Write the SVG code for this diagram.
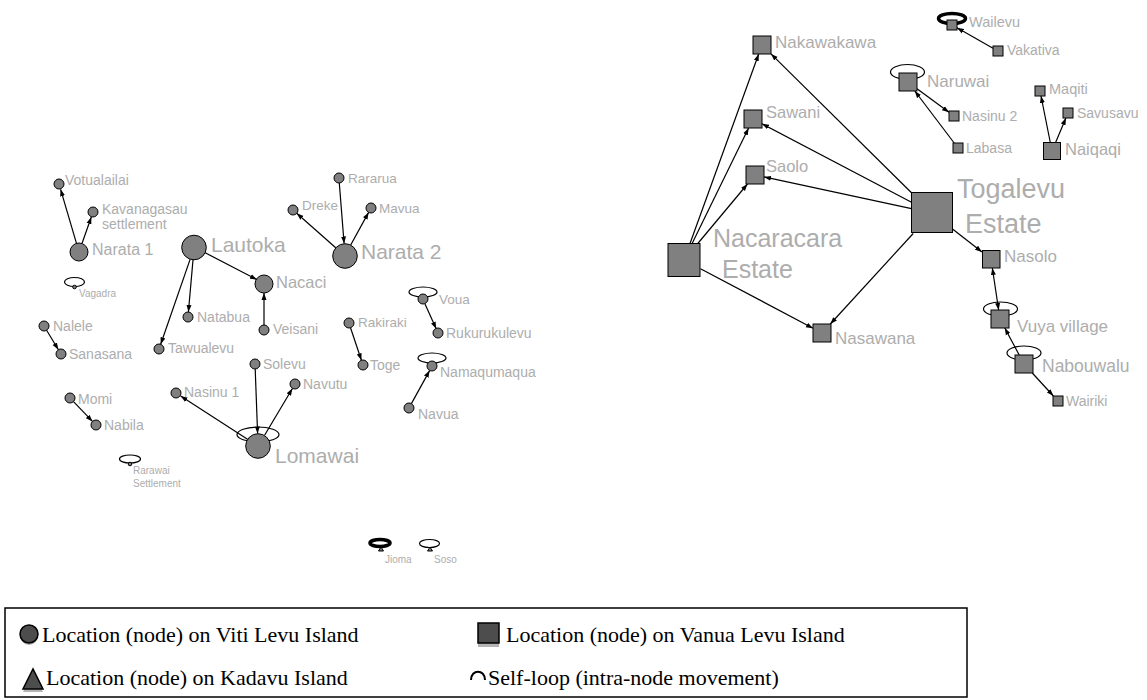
<svg xmlns="http://www.w3.org/2000/svg" width="1147" height="700" viewBox="0 0 1147 700">
<style>
  .bg{fill:#ffffff}
  .c{fill:#808080;stroke:#000;stroke-width:1}
  .s{fill:#808080;stroke:#000;stroke-width:1}
  .loop{fill:none;stroke:#000;stroke-width:1.2}
  .loopb{fill:none;stroke:#000;stroke-width:3.5}
  .e{stroke:#000;stroke-width:1.2;fill:none;marker-end:url(#ah)}
  .lb{font-family:"Liberation Sans",Arial,sans-serif;fill:#adadad}
  .lg{font-family:"Liberation Serif","Times New Roman",serif;fill:#000;font-size:22px}
</style>
<defs>
  <marker id="ah" markerUnits="userSpaceOnUse" markerWidth="8" markerHeight="6" refX="7" refY="3" orient="auto-start-reverse">
    <path d="M0,0.5 L7,3 L0,5.5 z" fill="#000"/>
  </marker>
</defs>
<rect class="bg" x="0" y="0" width="1147" height="700"/>

<!-- connectors -->
<g id="edges">
  <!-- Viti Levu -->
  <line class="e" x1="76.5" y1="243.4" x2="60.6" y2="189.3"/>
  <line class="e" x1="82" y1="243.5" x2="91.3" y2="217"/>
  <line class="e" x1="204.7" y1="252.5" x2="256.9" y2="279.6"/>
  <line class="e" x1="193" y1="260" x2="188.4" y2="312"/>
  <line class="e" x1="190.1" y1="259.4" x2="160.7" y2="344.3"/>
  <line class="e" x1="264" y1="325" x2="264" y2="293"/>
  <line class="e" x1="339.3" y1="183" x2="344.1" y2="243.5"/>
  <line class="e" x1="336" y1="248" x2="296.7" y2="213.3"/>
  <line class="e" x1="350.7" y1="245" x2="368.6" y2="212.4"/>
  <line class="e" x1="425" y1="304" x2="436.2" y2="328.8"/>
  <line class="e" x1="350.6" y1="328" x2="361.4" y2="360.3"/>
  <line class="e" x1="411.4" y1="403.6" x2="429.6" y2="370.6"/>
  <line class="e" x1="46.6" y1="330.3" x2="58.4" y2="349.7"/>
  <line class="e" x1="73.5" y1="401.6" x2="92.5" y2="421.4"/>
  <line class="e" x1="247.9" y1="439.5" x2="180.6" y2="396"/>
  <line class="e" x1="255.2" y1="369" x2="257.6" y2="433.5"/>
  <line class="e" x1="264.6" y1="435.3" x2="292.4" y2="388.5"/>
  <!-- Vanua Levu -->
  <line class="e" x1="690" y1="243.5" x2="758.7" y2="54"/>
  <line class="e" x1="692.1" y1="243.5" x2="748.6" y2="128"/>
  <line class="e" x1="697.8" y1="243.5" x2="747.5" y2="184"/>
  <line class="e" x1="700.5" y1="268.7" x2="813" y2="328.2"/>
  <line class="e" x1="911.5" y1="192.7" x2="771" y2="53.9"/>
  <line class="e" x1="911.5" y1="202.2" x2="762" y2="123.7"/>
  <line class="e" x1="911.5" y1="208.6" x2="764" y2="176.9"/>
  <line class="e" x1="913.2" y1="233.5" x2="830.3" y2="324"/>
  <line class="e" x1="952.5" y1="229" x2="982" y2="252"/>
  <line class="e" x1="993" y1="48.2" x2="957" y2="27.8"/>
  <line class="e" x1="917" y1="88.7" x2="949" y2="112.3"/>
  <line class="e" x1="954.2" y1="143" x2="914.8" y2="91"/>
  <line class="e" x1="1050.3" y1="142.5" x2="1041" y2="96"/>
  <line class="e" x1="1055.6" y1="142.5" x2="1065.9" y2="118"/>
  <line class="e" x1="992.35" y1="268" x2="998.65" y2="310" marker-start="url(#ah)"/>
  <line class="e" x1="1019.2" y1="355" x2="1004.8" y2="328"/>
  <line class="e" x1="1032.3" y1="373" x2="1053.4" y2="396"/>
</g>

<!-- Viti Levu nodes -->
<g id="n-votualailai"><circle class="c" cx="59" cy="184" r="5"/><text class="lb" x="65" y="185" font-size="14">Votualailai</text></g>
<g id="n-kavanagasau"><circle class="c" cx="93" cy="212" r="5"/><text class="lb" x="102" y="214" font-size="14">Kavanagasau</text><text class="lb" x="102" y="229" font-size="14">settlement</text></g>
<g id="n-narata1"><circle class="c" cx="79" cy="252" r="9"/><text class="lb" x="92" y="255" font-size="16">Narata 1</text></g>
<g id="n-vagadra"><ellipse class="loop" cx="74.5" cy="282" rx="10" ry="4.5"/><circle class="c" cx="74.5" cy="287" r="1.8"/><text class="lb" x="79" y="297" font-size="10">Vagadra</text></g>
<g id="n-lautoka"><circle class="c" cx="194" cy="247.5" r="12.3"/><text class="lb" x="211" y="252" font-size="21">Lautoka</text></g>
<g id="n-nacaci"><circle class="c" cx="264" cy="284" r="9"/><text class="lb" x="276" y="288" font-size="16.5">Nacaci</text></g>
<g id="n-natabua"><circle class="c" cx="188" cy="317" r="5"/><text class="lb" x="197" y="322" font-size="14">Natabua</text></g>
<g id="n-veisani"><circle class="c" cx="264" cy="330" r="5"/><text class="lb" x="273" y="334" font-size="14">Veisani</text></g>
<g id="n-tawualevu"><circle class="c" cx="159" cy="349" r="5"/><text class="lb" x="168" y="353" font-size="14">Tawualevu</text></g>
<g id="n-rararua"><circle class="c" cx="339" cy="178" r="5"/><text class="lb" x="348" y="183" font-size="13.5">Rararua</text></g>
<g id="n-dreke"><circle class="c" cx="293" cy="210" r="5"/><text class="lb" x="302" y="210" font-size="13.5">Dreke</text></g>
<g id="n-mavua"><circle class="c" cx="371" cy="208" r="5"/><text class="lb" x="379" y="213" font-size="13.5">Mavua</text></g>
<g id="n-narata2"><circle class="c" cx="345" cy="256" r="12.3"/><text class="lb" x="361" y="259" font-size="21">Narata 2</text></g>
<g id="n-voua"><ellipse class="loop" cx="423" cy="292" rx="14" ry="5"/><circle class="c" cx="423" cy="299" r="5"/><text class="lb" x="439" y="304" font-size="13.5">Voua</text></g>
<g id="n-rukurukulevu"><circle class="c" cx="438" cy="333" r="5"/><text class="lb" x="446" y="338" font-size="14">Rukurukulevu</text></g>
<g id="n-rakiraki"><circle class="c" cx="349" cy="323" r="5"/><text class="lb" x="358" y="327" font-size="13.5">Rakiraki</text></g>
<g id="n-toge"><circle class="c" cx="363" cy="365" r="5"/><text class="lb" x="370" y="370" font-size="14">Toge</text></g>
<g id="n-namaqumaqua"><ellipse class="loop" cx="432" cy="358" rx="14" ry="5"/><circle class="c" cx="432" cy="366" r="5"/><text class="lb" x="440" y="377" font-size="14">Namaqumaqua</text></g>
<g id="n-navua"><circle class="c" cx="409" cy="408" r="5"/><text class="lb" x="418" y="419" font-size="14">Navua</text></g>
<g id="n-nalele"><circle class="c" cx="44" cy="326" r="5"/><text class="lb" x="53" y="331" font-size="14">Nalele</text></g>
<g id="n-sanasana"><circle class="c" cx="61" cy="354" r="5"/><text class="lb" x="69" y="359" font-size="14">Sanasana</text></g>
<g id="n-momi"><circle class="c" cx="70" cy="398" r="5"/><text class="lb" x="78" y="404" font-size="14">Momi</text></g>
<g id="n-nabila"><circle class="c" cx="96" cy="425" r="5"/><text class="lb" x="104" y="430" font-size="14">Nabila</text></g>
<g id="n-rarawai"><ellipse class="loop" cx="130" cy="459" rx="10.5" ry="4"/><circle class="c" cx="130" cy="464" r="1.8"/><text class="lb" x="133" y="474" font-size="10">Rarawai</text><text class="lb" x="133" y="487" font-size="10">Settlement</text></g>
<g id="n-nasinu1"><circle class="c" cx="176" cy="393" r="5"/><text class="lb" x="184" y="397" font-size="14">Nasinu 1</text></g>
<g id="n-solevu"><circle class="c" cx="255" cy="364" r="5"/><text class="lb" x="263" y="369" font-size="14">Solevu</text></g>
<g id="n-navutu"><circle class="c" cx="295" cy="384" r="5"/><text class="lb" x="303" y="389" font-size="14">Navutu</text></g>
<g id="n-lomawai"><ellipse class="loop" cx="258" cy="434.5" rx="21" ry="7.5"/><circle class="c" cx="258" cy="446" r="12.3"/><text class="lb" x="275" y="463" font-size="21">Lomawai</text></g>

<!-- Kadavu nodes -->
<g id="n-jioma"><ellipse class="loopb" cx="380" cy="543" rx="10" ry="3.5"/><path class="c" d="M378.5,551 L383.5,551 L381,547 z"/><text class="lb" x="385" y="563" font-size="10">Jioma</text></g>
<g id="n-soso"><ellipse class="loop" cx="429.5" cy="543.5" rx="10" ry="4"/><path class="c" d="M427.5,551 L432.5,551 L430,547 z"/><text class="lb" x="434" y="563" font-size="10">Soso</text></g>

<!-- Vanua Levu nodes -->
<g id="n-nakawakawa"><rect class="s" x="753" y="36" width="18" height="18"/><text class="lb" x="775" y="48" font-size="17">Nakawakawa</text></g>
<g id="n-sawani"><rect class="s" x="744" y="110" width="18" height="18"/><text class="lb" x="766" y="118" font-size="16.5">Sawani</text></g>
<g id="n-saolo"><rect class="s" x="746" y="166" width="18" height="18"/><text class="lb" x="766" y="172" font-size="16.5">Saolo</text></g>
<g id="n-nacaracara"><rect class="s" x="668" y="243.5" width="32" height="33"/><text class="lb" x="713" y="247" font-size="25">Nacaracara</text><text class="lb" x="722" y="278" font-size="25">Estate</text></g>
<g id="n-togalevu"><rect class="s" x="911.5" y="192.5" width="41" height="40"/><text class="lb" x="957" y="198" font-size="27">Togalevu</text><text class="lb" x="965" y="233" font-size="27">Estate</text></g>
<g id="n-nasawana"><rect class="s" x="813" y="324" width="18" height="18"/><text class="lb" x="835" y="344" font-size="17">Nasawana</text></g>
<g id="n-wailevu"><ellipse class="loopb" cx="952" cy="18.5" rx="13.5" ry="5"/><rect class="s" x="947" y="20" width="10" height="10"/><text class="lb" x="969" y="27" font-size="14.5">Wailevu</text></g>
<g id="n-vakativa"><rect class="s" x="993" y="46" width="10" height="10"/><text class="lb" x="1007" y="55" font-size="14">Vakativa</text></g>
<g id="n-naruwai"><ellipse class="loop" cx="907.5" cy="72" rx="17" ry="7.5"/><rect class="s" x="899" y="73" width="18" height="18"/><text class="lb" x="927" y="87" font-size="17">Naruwai</text></g>
<g id="n-nasinu2"><rect class="s" x="949" y="111" width="10" height="10"/><text class="lb" x="962" y="121" font-size="14">Nasinu 2</text></g>
<g id="n-labasa"><rect class="s" x="953" y="143" width="10" height="10"/><text class="lb" x="966" y="153" font-size="14">Labasa</text></g>
<g id="n-maqiti"><rect class="s" x="1035" y="86" width="10" height="10"/><text class="lb" x="1049" y="94" font-size="14.5">Maqiti</text></g>
<g id="n-savusavu"><rect class="s" x="1063" y="108" width="10" height="10"/><text class="lb" x="1077" y="118" font-size="14">Savusavu</text></g>
<g id="n-naiqaqi"><rect class="s" x="1043.5" y="142.5" width="17" height="17"/><text class="lb" x="1065" y="155" font-size="16.5">Naiqaqi</text></g>
<g id="n-nasolo"><rect class="s" x="982.5" y="250.5" width="17.5" height="17.5"/><text class="lb" x="1004" y="262" font-size="17">Nasolo</text></g>
<g id="n-vuya"><ellipse class="loop" cx="1000.5" cy="309" rx="17" ry="7"/><rect class="s" x="991" y="310" width="18" height="18"/><text class="lb" x="1017" y="332" font-size="17">Vuya village</text></g>
<g id="n-nabouwalu"><ellipse class="loop" cx="1024" cy="353" rx="17" ry="7"/><rect class="s" x="1015" y="355" width="18" height="18"/><text class="lb" x="1042" y="372" font-size="17.5">Nabouwalu</text></g>
<g id="n-wairiki"><rect class="s" x="1053" y="396" width="10" height="10"/><text class="lb" x="1066" y="406" font-size="14">Wairiki</text></g>

<!-- legend -->
<g id="legend">
  <rect x="5" y="608" width="962" height="89" fill="#fff" stroke="#000" stroke-width="1.5"/>
  <circle cx="29" cy="636" r="9" fill="#b4b4b4"/>
  <circle cx="29" cy="634" r="9" fill="#4d4d4d" stroke="#000" stroke-width="1.5"/>
  <text class="lg" x="42" y="642">Location (node) on Viti Levu Island</text>
  <rect x="478" y="627" width="21" height="20" fill="#b4b4b4"/>
  <rect x="478" y="623" width="21" height="20" fill="#4d4d4d" stroke="#000" stroke-width="1.5"/>
  <text class="lg" x="506" y="642">Location (node) on Vanua Levu Island</text>
  <path d="M23,692 L43,692 L33,672 z" fill="#b4b4b4"/>
  <path d="M23,689 L43,689 L33,669 z" fill="#4d4d4d" stroke="#000" stroke-width="1.5"/>
  <text class="lg" x="46" y="685">Location (node) on Kadavu Island</text>
  <path d="M471,680 C471,669 485,669 485,680" fill="none" stroke="#000" stroke-width="2"/>
  <text class="lg" x="488" y="685">Self-loop (intra-node movement)</text>
</g>
</svg>
